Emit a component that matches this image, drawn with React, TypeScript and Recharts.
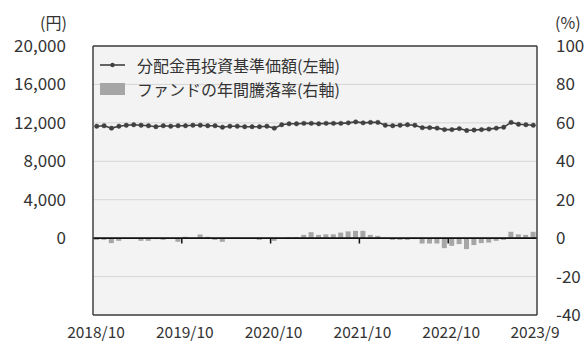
import { Bar, CartesianGrid, ComposedChart, Line, ReferenceLine, XAxis, YAxis } from 'recharts'

const MONTHS = [
  '2018/10', '2018/11', '2018/12',
  '2019/1', '2019/2', '2019/3', '2019/4', '2019/5', '2019/6', '2019/7', '2019/8', '2019/9', '2019/10', '2019/11', '2019/12',
  '2020/1', '2020/2', '2020/3', '2020/4', '2020/5', '2020/6', '2020/7', '2020/8', '2020/9', '2020/10', '2020/11', '2020/12',
  '2021/1', '2021/2', '2021/3', '2021/4', '2021/5', '2021/6', '2021/7', '2021/8', '2021/9', '2021/10', '2021/11', '2021/12',
  '2022/1', '2022/2', '2022/3', '2022/4', '2022/5', '2022/6', '2022/7', '2022/8', '2022/9', '2022/10', '2022/11', '2022/12',
  '2023/1', '2023/2', '2023/3', '2023/4', '2023/5', '2023/6', '2023/7', '2023/8', '2023/9',
]

// 分配金再投資基準価額 (円)
const NAV = [
  11650, 11700, 11450, 11650, 11750, 11800, 11750, 11700, 11600, 11700, 11650, 11700,
  11700, 11750, 11750, 11700, 11700, 11550, 11650, 11650, 11600, 11600, 11600, 11650,
  11450, 11800, 11900, 11900, 11950, 11950, 11900, 11950, 11950, 11950, 12000, 12100,
  12000, 12050, 12050, 11750, 11700, 11750, 11800, 11750, 11500, 11500, 11450, 11300,
  11300, 11400, 11200, 11250, 11300, 11350, 11450, 11550, 12050, 11850, 11800, 11750,
]

// ファンドの年間騰落率 (%)
const RET = [
  -0.9, -0.9, -2.6, -1.4, -0.3, -0.2, -1.4, -1.4, -0.5, -0.9, -0.2, -1.9,
  0.7, 0.2, 1.9, 0.7, -0.9, -1.9, 0.1, 0.3, -0.1, -0.3, -0.9, 0.1,
  -1.4, -0.2, 0.5, 0.5, 1.7, 3.1, 1.7, 2.0, 2.0, 2.9, 3.5, 3.8,
  3.8, 1.7, 1.2, -0.2, -0.9, -0.9, -0.9, -0.5, -2.8, -2.8, -2.8, -5.2,
  -4.0, -3.1, -5.7, -3.6, -2.6, -2.3, -1.4, -0.9, 3.3, 2.0, 1.7, 3.3,
]

const X_TICKS = [0, 12, 24, 36, 48, 60]
const X_TICK_LABELS = ['2018/10', '2019/10', '2020/10', '2021/10', '2022/10', '2023/9']
const LEFT_TICKS = [0, 4000, 8000, 12000, 16000, 20000]
const RIGHT_TICKS = [-40, -20, 0, 20, 40, 60, 80, 100]

const FONT = '"Noto Sans CJK JP", "Noto Sans", sans-serif'
const LINE_COLOR = '#404040'
const BAR_COLOR = '#a6a6a6'
const FRAME = '#404040'

const rows = MONTHS.map((month, i) => ({
  pos: i + 0.5,
  month,
  nav: NAV[i],
  ret: RET[i],
}))

function XTick(props: any) {
  const { x, y, payload } = props
  const idx = X_TICKS.indexOf(payload.value)
  const last = idx === X_TICKS.length - 1
  return (
    <text x={last ? x - 2 : x + 3} y={y} dy="0.71em" textAnchor="middle" fill="#333" fontSize={15.5} fontFamily={FONT}>
      {X_TICK_LABELS[idx]}
    </text>
  )
}

export default function App() {
  return (
    <div style={{ position: 'absolute', left: 0, top: 0, width: 584, height: 343, background: '#fff', fontFamily: FONT, color: '#333' }}>
      <div style={{ position: 'absolute', left: 40, top: 11, fontSize: 16, lineHeight: '22px' }}>(円)</div>
      <div style={{ position: 'absolute', left: 555, top: 11, fontSize: 16, lineHeight: '22px' }}>(%)</div>

      <ComposedChart
        width={584}
        height={343}
        data={rows}
        margin={{ top: 46, right: 0, bottom: 0, left: 0 }}
        style={{ fontFamily: FONT }}
      >
        <CartesianGrid yAxisId="right" vertical={false} stroke="#d6d6d6" fill="#f3f3f3" />
        <XAxis
          dataKey="pos"
          type="number"
          domain={[0, 60]}
          ticks={X_TICKS}
          tick={<XTick />}
          tickLine={false}
          tickSize={0}
          tickMargin={12}
          height={28}
          axisLine={{ stroke: FRAME, strokeWidth: 1.5 }}
          interval={0}
        />
        <YAxis
          yAxisId="left"
          orientation="left"
          domain={[-8000, 20000]}
          ticks={LEFT_TICKS}
          tickFormatter={(v: number) => v.toLocaleString('en-US')}
          width={93}
          tickLine={false}
          tickSize={0}
          tickMargin={27}
          axisLine={{ stroke: FRAME, strokeWidth: 1.5 }}
          tick={{ fill: '#333', fontSize: 17 }}
          interval={0}
        />
        <YAxis
          yAxisId="right"
          orientation="right"
          domain={[-40, 100]}
          ticks={RIGHT_TICKS}
          width={47}
          tickLine={false}
          tickSize={0}
          tickMargin={19}
          axisLine={{ stroke: FRAME, strokeWidth: 1.5 }}
          tick={{ fill: '#333', fontSize: 17, textAnchor: 'start' }}
          interval={0}
        />
        <ReferenceLine yAxisId="right" y={100} stroke={FRAME} strokeWidth={1.5} />
        <Bar yAxisId="right" dataKey="ret" fill={BAR_COLOR} barSize={5} isAnimationActive={false} />
        <ReferenceLine yAxisId="right" y={0} stroke="#111" strokeWidth={1.8} />
        {X_TICKS.slice(1, 5).map((p) => (
          <ReferenceLine
            key={p}
            yAxisId="right"
            segment={[{ x: p, y: 0 }, { x: p, y: -2.8 }]}
            stroke="#111"
            strokeWidth={1.5}
          />
        ))}
        <Line
          yAxisId="left"
          type="linear"
          dataKey="nav"
          stroke={LINE_COLOR}
          strokeWidth={1.6}
          dot={{ r: 2.2, fill: LINE_COLOR, stroke: LINE_COLOR, strokeWidth: 0.5 }}
          isAnimationActive={false}
        />
      </ComposedChart>

      <div style={{ position: 'absolute', left: 100, top: 53, fontSize: 16, lineHeight: '24px', color: '#333' }}>
        <div style={{ display: 'flex', alignItems: 'center' }}>
          <svg width={25} height={12} style={{ marginRight: 12 }}>
            <line x1={0} y1={6} x2={25} y2={6} stroke={LINE_COLOR} strokeWidth={1.6} />
            <circle cx={12.5} cy={6} r={2.2} fill={LINE_COLOR} />
          </svg>
          <span>分配金再投資基準価額(左軸)</span>
        </div>
        <div style={{ display: 'flex', alignItems: 'center' }}>
          <svg width={25} height={12} style={{ marginRight: 12 }}>
            <rect x={0} y={0} width={25} height={12} fill={BAR_COLOR} />
          </svg>
          <span>ファンドの年間騰落率(右軸)</span>
        </div>
      </div>
    </div>
  )
}
